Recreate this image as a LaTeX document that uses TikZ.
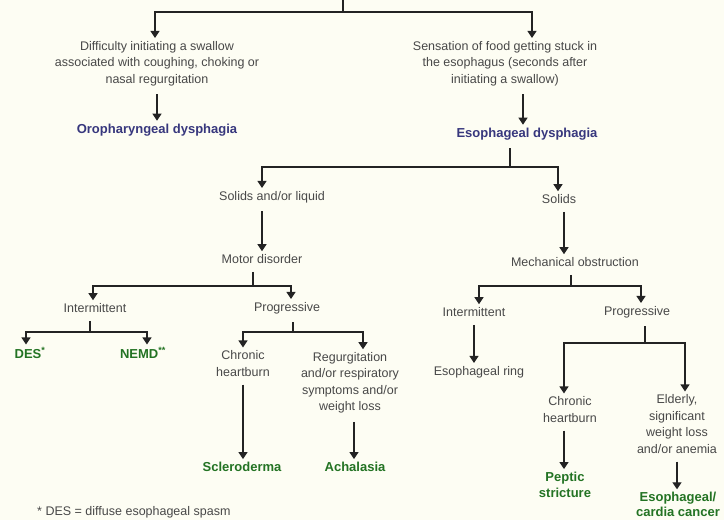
\documentclass[tikz,border=0pt]{standalone}
\usepackage{fontspec}
\setmainfont{Liberation Sans}
\usepackage{tikz}
\usetikzlibrary{arrows.meta}

\definecolor{bgc}{RGB}{253,253,243}
\definecolor{txtc}{RGB}{72,72,72}
\definecolor{dxc}{RGB}{55,55,125}
\definecolor{grc}{RGB}{35,115,35}
\definecolor{lnc}{RGB}{35,35,35}

\begin{document}
\begin{tikzpicture}[x=1pt, y=-1pt,
    txt/.style={text=txtc, align=center, inner sep=3pt, font=\fontsize{12.5}{16.5}\selectfont},
    dx/.style={text=dxc, inner sep=3pt, font=\bfseries\fontsize{13}{16}\selectfont},
    fin/.style={text=grc, align=center, inner sep=3pt, font=\bfseries\fontsize{13}{16}\selectfont},
    ln/.style={draw=lnc, line width=1.2pt},
    arr/.style={ln, -{Triangle[width=9pt,length=7pt]}},
    src/.style={shorten <=5pt}]
    \useasboundingbox (0,0) rectangle (724,520);
    \fill [bgc] (0,0) rectangle (724,520);

    % first split
    \node [txt] (diff) at (157,63.5) {Difficulty initiating a swallow\\associated with coughing, choking or\\nasal regurgitation};
    \node [dx] (oro) at (157,130) {Oropharyngeal dysphagia};
    \node [txt] (sens) at (505,63.5) {Sensation of food getting stuck in\\the esophagus (seconds after\\initiating a swallow)};
    \node [dx] (eso) at (527,134) {Esophageal dysphagia};

    % esophageal branch
    \node [txt] (sl) at (272,197) {Solids and/or liquid};
    \node [txt] (md) at (262,259) {Motor disorder};
    \node [txt] (ia) at (95,308) {Intermittent};
    \node [txt] (pa) at (287,308) {Progressive};
    \node [fin] (des) at (30,353) {DES\textsuperscript{*}};
    \node [fin] (nemd) at (143,353) {NEMD\textsuperscript{**}};
    \node [txt] (cha) at (243,363.5) {Chronic\\heartburn};
    \node [txt] (reg) at (350,383) {Regurgitation\\and/or respiratory\\symptoms and/or\\weight loss};
    \node [fin] (scl) at (242,467) {Scleroderma};
    \node [fin] (ach) at (355,467) {Achalasia};

    \node [txt] (so) at (559,199) {Solids};
    \node [txt] (mo) at (575,262) {Mechanical obstruction};
    \node [txt] (ib) at (474,312) {Intermittent};
    \node [txt] (pb) at (637,312) {Progressive};
    \node [txt] (ring) at (479,372) {Esophageal ring};
    \node [txt] (chb) at (570,409.5) {Chronic\\heartburn};
    \node [txt] (eld) at (677,424) {Elderly,\\significant\\weight loss\\and/or anemia};
    \node [fin] (pep) at (565,485) {Peptic\\stricture};
    \node [fin, font=\bfseries\fontsize{13}{14.5}\selectfont] (can) at (678,504.5) {Esophageal/\\cardia cancer};

    \node [txt, anchor=south west, inner sep=0pt, font=\fontsize{12.5}{15}\selectfont] (foot) at (37,518) {* DES = diffuse esophageal spasm};

    % branch points
    \coordinate (top) at (343,0);
    \coordinate (b1) at (343,12);
    \coordinate (b2) at (510,167);
    \coordinate (b3) at (253,286);
    \coordinate (b4) at (90,332);
    \coordinate (b5) at (293,332);
    \coordinate (b6) at (571,286);
    \coordinate (b7) at (645,343);

    \draw [ln] (top) -- (b1);
    \draw [arr] (b1) -| ([xshift=-2]diff.north);
    \draw [arr] (b1) -| ([xshift=27]sens.north);
    \draw [arr, src] (diff.south) -- (oro.north);
    \draw [arr, src] ([xshift=18]sens.south) -- ([xshift=18]sens.south |- eso.north);

    \draw [ln, src] (eso.south -| b2) -- (b2);
    \draw [arr] (b2) -| ([xshift=-10]sl.north);
    \draw [arr] (b2) -| ([xshift=-1]so.north);

    \draw [arr, src] (sl.south -| md.north) -- (md.north);
    \draw [ln, src] (md.south -| b3) -- (b3);
    \draw [arr] (b3) -| ([xshift=-2]ia.north);
    \draw [arr] (b3) -| ([xshift=4]pa.north);
    \draw [ln, src] (ia.south -| b4) -- (b4);
    \draw [arr] (b4) -| ([xshift=-4]des.north);
    \draw [arr] (b4) -| ([xshift=4]nemd.north);
    \draw [ln, src] (pa.south -| b5) -- (b5);
    \draw [arr] (b5) -| (cha.north);
    \draw [arr] (b5) -| ([xshift=13]reg.north);
    \draw [arr, src] (cha.south) -- (cha.south |- scl.north);
    \draw [arr, src] ([xshift=4]reg.south) -- ([xshift=4]reg.south |- ach.north);

    \draw [arr, src] ([xshift=5]so.south) -- ([xshift=5]so.south |- mo.north);
    \draw [ln, src] (mo.south -| b6) -- (b6);
    \draw [arr] (b6) -| ([xshift=5]ib.north);
    \draw [arr] (b6) -| ([xshift=4]pb.north);
    \draw [arr, src] (ib.south) -- (ib.south |- ring.north);
    \draw [ln, src] (pb.south -| b7) -- (b7);
    \draw [arr] (b7) -| ([xshift=-6]chb.north);
    \draw [arr] (b7) -| ([xshift=8]eld.north);
    \draw [arr, src] ([xshift=-6]chb.south) -- ([xshift=-6]chb.south |- pep.north);
    \draw [arr, src] (eld.south) -- (eld.south |- can.north);
\end{tikzpicture}
\end{document}
